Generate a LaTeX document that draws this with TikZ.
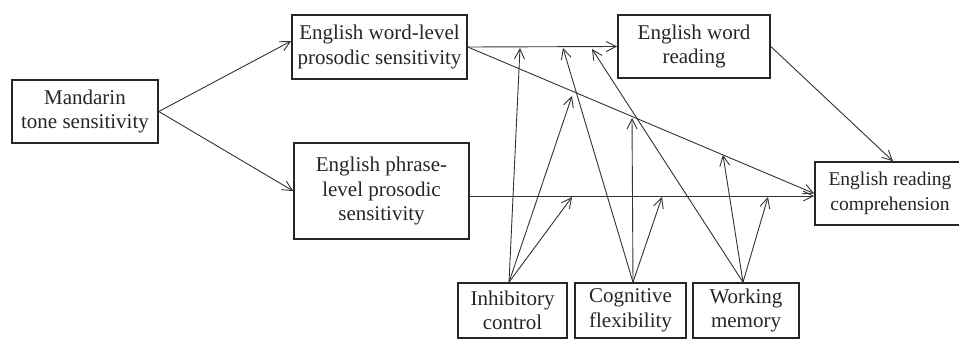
\documentclass[tikz,border=0pt]{standalone}
\usepackage{fontspec}
\setmainfont{Liberation Serif}
\usetikzlibrary{arrows.meta}
\begin{document}
\begin{tikzpicture}[x=1pt,y=-1pt,
  box/.style={draw=black!85,line width=1.6pt,inner sep=0pt,align=center,
    font=\fontsize{21}{24.5}\selectfont,text=black!85},
  arr/.style={draw=black!80,line width=0.9pt,-{Straight Barb[length=10pt,width=10pt]}}]
\clip (0,0) rectangle (959,340);
\fill[white] (0,0) rectangle (959,340);
% nodes
\node[box,minimum width=146pt,minimum height=63pt] (mt) at (85,111.5) {Mandarin\\tone sensitivity};
\node[box,minimum width=175pt,minimum height=64pt] (wl) at (379.5,47) {English word-level\\prosodic sensitivity};
\node[box,minimum width=175pt,minimum height=96pt] (ph) at (381.5,191) {English phrase-\\level prosodic\\sensitivity};
\node[box,minimum width=152pt,minimum height=63pt] (wr) at (694,46.5) {English word\\reading};
\node[box,minimum width=150pt,minimum height=63pt,font=\fontsize{19.5}{24.5}\selectfont] (rc) at (890,193.5) {English reading\\comprehension};
\node[box,minimum width=109pt,minimum height=55pt] (ic) at (512.5,310.5) {Inhibitory\\control};
\node[box,minimum width=111pt,minimum height=55pt] (cf) at (630.5,310.5) {Cognitive\\flexibility};
\node[box,minimum width=106pt,minimum height=55pt] (wm) at (746,310.5) {Working\\memory};
% main paths
\draw[arr] (mt.east) -- ([yshift=6pt]wl.west);
\draw[arr] (mt.east) -- (ph.west);
\draw[arr] (wl.east) -- (wr.west);
\draw[arr] (wl.east) -- (rc.west);
\draw[arr] ([yshift=-5pt]ph.east) -- ([yshift=-2.5pt]rc.west);
\draw[arr] (wr.east) -- ([xshift=3pt]rc.north);
% moderation targets
\coordinate (i1) at (520,48);
\coordinate (i2) at (572,96);
\coordinate (i3) at (572,197);
\coordinate (c1) at (563,48);
\coordinate (c2) at (632,118);
\coordinate (c3) at (662,197);
\coordinate (w1) at (592,49);
\coordinate (w2) at (723,155);
\coordinate (w3) at (768,197);
\draw[arr] ([xshift=-3.5pt]ic.north) -- (i1);
\draw[arr] ([xshift=-3.5pt]ic.north) -- (i2);
\draw[arr] ([xshift=-3.5pt]ic.north) -- (i3);
\draw[arr] ([xshift=2.5pt]cf.north) -- (c1);
\draw[arr] ([xshift=2.5pt]cf.north) -- (c2);
\draw[arr] ([xshift=2.5pt]cf.north) -- (c3);
\draw[arr] ([xshift=-3pt]wm.north) -- (w1);
\draw[arr] ([xshift=-3pt]wm.north) -- (w2);
\draw[arr] ([xshift=-3pt]wm.north) -- (w3);
\end{tikzpicture}
\end{document}
